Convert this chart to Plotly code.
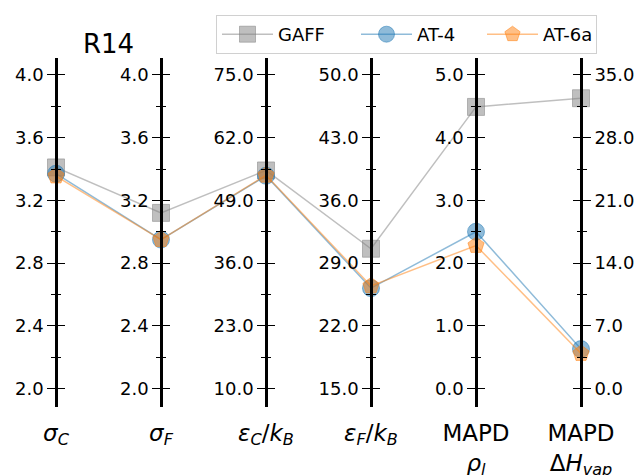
import plotly.graph_objects as go

# ---------------- data ----------------
categories = [
    "<i>σ</i><sub><i>C</i></sub>",
    "<i>σ</i><sub><i>F</i></sub>",
    "<i>ε</i><sub><i>C</i></sub>/<i>k</i><sub><i>B</i></sub>",
    "<i>ε</i><sub><i>F</i></sub>/<i>k</i><sub><i>B</i></sub>",
    "MAPD<br><i>ρ</i><sub><i>l</i></sub>",
    "MAPD<br>Δ<i>H</i><sub><i>vap</i></sub>",
]
series_names = ["GAFF", "AT-4", "AT-6a"]
gaff = [3.41, 3.12, 55.2, 30.6, 4.49, 32.4]
at4 = [3.37, 2.95, 54.1, 26.2, 2.50, 4.4]
at6a = [3.355, 2.95, 54.2, 26.45, 2.28, 3.9]
axis_lo = [2.0, 2.0, 10.0, 15.0, 0.0, 0.0]
axis_hi = [4.0, 4.0, 75.0, 50.0, 5.0, 35.0]
title_text = "R14"

# ---------------- styling ----------------
PAD_TOP = 0.054
PAD_BOT = 0.059
FONT = "DejaVu Sans"
styles = [
    dict(color="rgba(128,128,128,0.5)", symbol="square", lw=73),
    dict(color="rgba(31,119,180,0.5)", symbol="circle", lw=60),
    dict(color="rgba(255,127,14,0.5)", symbol="pentagon", lw=48),
]

n = len(categories)
lo0, hi0 = axis_lo[0], axis_hi[0]


def to_host(vals):
    # map each axis' value onto the host (first) axis scale
    return [lo0 + (v - axis_lo[i]) / (axis_hi[i] - axis_lo[i]) * (hi0 - lo0)
            for i, v in enumerate(vals)]


fig = go.Figure()
for name, vals, st in zip(series_names, [gaff, at4, at6a], styles):
    fig.add_trace(go.Scatter(
        x=list(range(n)), y=to_host(vals), name=name,
        mode="lines+markers", cliponaxis=False, legendwidth=st["lw"],
        line=dict(color=st["color"], width=1.5),
        marker=dict(symbol=st["symbol"], size=17, color=st["color"],
                    line=dict(color=st["color"], width=1)),
        hoverinfo="skip",
    ))

layout_axes = {}
for i in range(n):
    lo, hi = axis_lo[i], axis_hi[i]
    span = hi - lo
    rng = [lo - PAD_BOT * span, hi + PAD_TOP * span]
    step = span / 5
    tv = [lo + k * step for k in range(6)]
    mv = [lo + (k + 0.5) * step for k in range(5)]
    side = "right" if i == n - 1 else "left"
    pos = i / (n - 1)
    common = dict(range=rng, tickvals=tv, tickformat=".1f", side=side,
                  showgrid=False, zeroline=False, fixedrange=True,
                  automargin=False,
                  tickwidth=1.3, tickcolor="black", ticklen=8,
                  anchor="free", position=pos,
                  tickfont=dict(family=FONT, size=18, color="black"))
    lab = dict(common, showline=True, linecolor="black", linewidth=2.6,
               ticks="outside", showticklabels=True,
               minor=dict(tickvals=mv, ticks="outside", ticklen=4,
                          tickwidth=1.3, tickcolor="black"))
    mir = dict(common, showline=False, ticks="inside", showticklabels=False,
               overlaying="y",
               minor=dict(tickvals=mv, ticks="inside", ticklen=4,
                          tickwidth=1.3, tickcolor="black"))
    key = "yaxis" if i == 0 else f"yaxis{i + 1}"
    if i > 0:
        lab["overlaying"] = "y"
    layout_axes[key] = lab
    layout_axes[f"yaxis{n + i + 1}"] = mir

# dummy traces so every overlay axis is drawn
for k in range(2, 2 * n + 1):
    fig.add_trace(go.Scatter(x=[None], y=[None], yaxis=f"y{k}",
                             showlegend=False, hoverinfo="skip"))

fig.update_layout(
    width=636, height=475,
    margin=dict(l=56, r=55, t=58, b=68, autoexpand=False),
    paper_bgcolor="white", plot_bgcolor="white",
    xaxis=dict(range=[0, n - 1], tickvals=list(range(n)), ticktext=categories,
               showgrid=False, zeroline=False, showline=False, fixedrange=True,
               automargin=False,
               ticks="outside", ticklen=5, tickcolor="rgba(0,0,0,0)",
               tickfont=dict(family=FONT, size=23, color="black")),
    showlegend=True,
    legend=dict(orientation="h", xref="container", yref="container",
                x=216 / 636, y=1 - 15 / 475, xanchor="left", yanchor="top",
                itemwidth=51,
                bordercolor="#d0d0d0", borderwidth=1, bgcolor="white",
                font=dict(family=FONT, size=18, color="black")),
    annotations=[dict(text=title_text, x=0.5, xref="x", y=1, yref="paper",
                      xanchor="center", yanchor="bottom", showarrow=False,
                      yshift=-3,
                      font=dict(family=FONT, size=26, color="black"))],
    **layout_axes,
)

fig.write_html("out.html", config={"displayModeBar": False},
               post_script="document.body.style.margin='0';"
                           "document.body.style.padding='0';")
